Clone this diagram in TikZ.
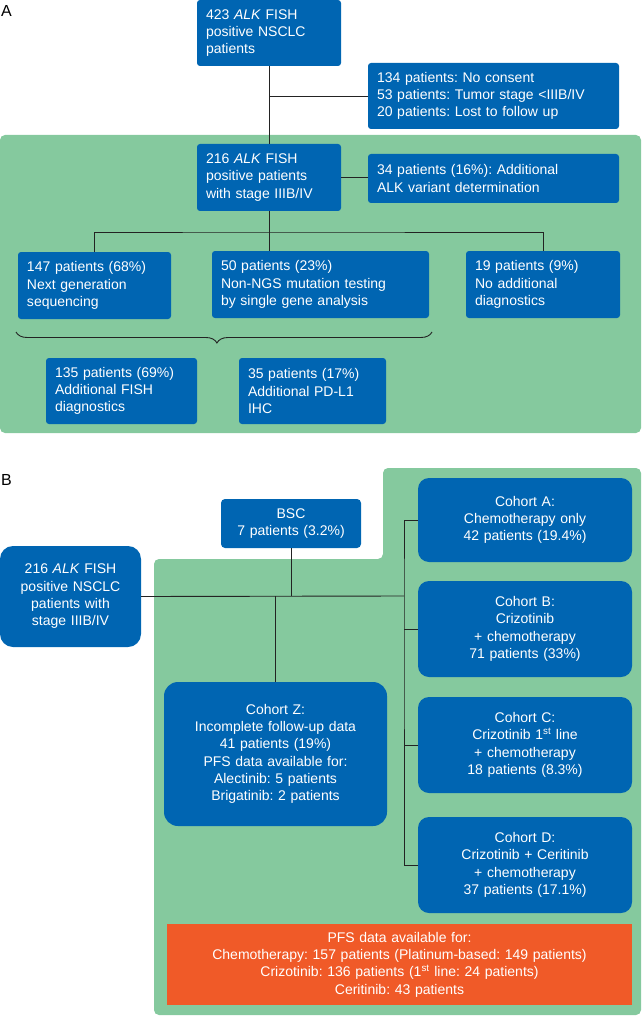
\documentclass[tikz,border=0pt]{standalone}
\usepackage{fontspec}
\setmainfont{Liberation Sans}
\usetikzlibrary{decorations.pathreplacing}
\definecolor{boxblue}{RGB}{0,101,178}
\definecolor{panelgreen}{RGB}{133,201,158}
\definecolor{pfsorange}{RGB}{240,90,40}
\definecolor{edgegray}{RGB}{35,35,35}
\frenchspacing

\begin{document}
\begin{tikzpicture}[x=1pt,y=-1pt]
        \tikzstyle{box}=[rectangle, rounded corners=3pt, fill=boxblue, text=white, inner xsep=9pt, inner ysep=0pt, align=left, font=\fontsize{14}{17.3}\selectfont]
        \tikzstyle{edge}=[edgegray, line width=0.9pt]
        \tikzstyle{panel}=[fill=panelgreen, rounded corners=5pt]
        \tikzstyle{letter}=[anchor=base west, inner sep=0pt, font=\fontsize{16}{16}\selectfont]

        \useasboundingbox (0,0) rectangle (643,1016);

        % panel A
        \fill[panel] (0,135) rectangle (641,433);
        \node[letter] (labA) at (1,17) {A};

        \node[box, text width=126pt, minimum height=66pt] (top)     at (269,33)    {423 \textit{ALK} FISH\\positive NSCLC\\patients};
        \node[box, text width=233pt, minimum height=66pt] (excl)    at (493.5,96)  {134 patients: No consent\\53 patients: Tumor stage <IIIB/IV\\20 patients: Lost to follow up};
        \node[box, text width=126pt, minimum height=67pt] (stage)   at (269,177.5) {216 \textit{ALK} FISH\\positive patients\\with stage IIIB/IV};
        \node[box, text width=233pt, minimum height=49pt] (variant) at (493.5,178.5) {34 patients (16\%): Additional\\ALK variant determination};

        \node[box, text width=135pt, minimum height=67pt] (ngs)     at (94.5,285.5) {147 patients (68\%)\\Next generation\\sequencing};
        \node[box, text width=199pt, minimum height=67pt] (nonngs)  at (320.5,284.5) {50 patients (23\%)\\Non-NGS mutation testing\\by single gene analysis};
        \node[box, text width=136pt, minimum height=67pt] (nodiag)  at (543,284.5) {19 patients (9\%)\\No additional\\diagnostics};

        \node[box, text width=133pt, minimum height=66pt] (fish)    at (121.5,391) {135 patients (69\%)\\Additional FISH\\diagnostics};
        \node[box, text width=129pt, minimum height=66pt] (pdl1)    at (312.5,391) {35 patients (17\%)\\Additional PD-L1\\IHC};

        \coordinate (bar) at (269,232);
        \coordinate (bl) at (16,332);
        \coordinate (br) at (432,332);

        \draw[edge] (top) -- (stage);
        \draw[edge] (top.south |- excl.west) -- (excl.west);
        \draw[edge] (stage.east) -- (stage.east -| variant.west);
        \draw[edge] (stage) -- (stage.south |- nonngs.north);
        \draw[edge] (ngs.north) |- (bar) -| (nodiag.north);
        \draw[edge, decorate, decoration={brace, mirror, amplitude=11pt, aspect=0.483}] (bl) -- (br);

        % panel B
        \fill[panel] (154,559) -- (383,559) -- (383,468) -- (641,468) -- (641,1015) -- (154,1015) -- cycle;
        \node[letter] (labB) at (1,485) {B};

        \tikzstyle{box}=[rectangle, rounded corners=11pt, fill=boxblue, text=white, inner xsep=4pt, inner ysep=0pt, align=center, font=\fontsize{14}{17.3}\selectfont]
        \node[box, rounded corners=4pt, text width=132pt, minimum height=49pt] (bsc) at (291,523.5) {BSC\\7 patients (3.2\%)};
        \node[box, rounded corners=13pt, text width=133pt, minimum height=101pt] (root) at (70.5,596.5) {216 \textit{ALK} FISH\\positive NSCLC\\patients with\\stage IIIB/IV};

        \node[box, text width=206pt, minimum height=84pt] (coha) at (525,520) {Cohort A:\\Chemotherapy only\\42 patients (19.4\%)};
        \node[box, text width=206pt, minimum height=96pt] (cohb) at (525,629) {Cohort B:\\Crizotinib\\+ chemotherapy\\71 patients (33\%)};
        \node[box, text width=206pt, minimum height=96pt] (cohc) at (525,745) {Cohort C:\\Crizotinib 1\textsuperscript{st} line\\+ chemotherapy\\18 patients (8.3\%)};
        \node[box, text width=206pt, minimum height=96pt] (cohd) at (525,865) {Cohort D:\\Crizotinib + Ceritinib\\+ chemotherapy\\37 patients (17.1\%)};
        \node[box, rounded corners=14pt, text width=215pt, minimum height=144pt] (cohz) at (275.5,754) {Cohort Z:\\Incomplete follow-up data\\41 patients (19\%)\\PFS data available for:\\Alectinib: 5 patients\\Brigatinib: 2 patients};

        \node[box, fill=pfsorange, rounded corners=0pt, text width=457pt, minimum height=81pt] (pfs) at (399.5,964.5) {PFS data available for:\\Chemotherapy: 157 patients (Platinum-based: 149 patients)\\Crizotinib: 136 patients (1\textsuperscript{st} line: 24 patients)\\Ceritinib: 43 patients};

        \coordinate (hub) at (404,596);

        \draw[edge] (root.east) -- (hub);
        \draw[edge] (bsc) -- (bsc.south |- hub);
        \draw[edge] (cohz) -- (cohz.north |- hub);
        \draw[edge] (coha.west) -| (hub) |- (cohd.west);
        \draw[edge] (cohb.west) -- (cohb.west -| hub);
        \draw[edge] (cohc.west) -- (cohc.west -| hub);
    \end{tikzpicture}
\end{document}
